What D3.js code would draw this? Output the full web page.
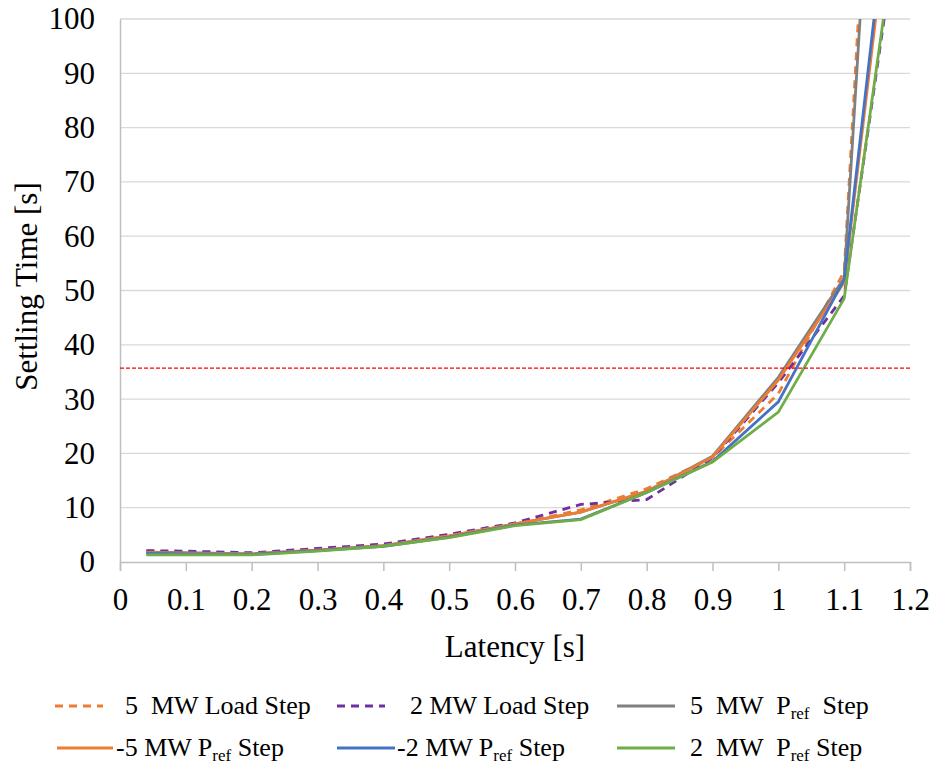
<!DOCTYPE html>
<html>
<head>
<meta charset="utf-8">
<script src="https://cdn.jsdelivr.net/npm/d3@7"></script>
</head>
<body style="margin:0; background:#fff">
<div id="chart"></div>
<script>
// data
var latency = [0.04, 0.1, 0.2, 0.3, 0.4, 0.5, 0.6, 0.7, 0.8, 0.9, 1.0, 1.1, 1.2];

var load5 = [2.0, 1.9, 1.6, 2.3, 3.2, 5.0, 7.0, 9.6, 13.5, 19.2, 31.0, 53.5, 270];
var load2 = [2.1, 2.0, 1.7, 2.5, 3.3, 5.1, 7.2, 10.6, 11.5, 19.2, 33.0, 49.0, 133];
var pref5 = [1.8, 1.7, 1.5, 2.2, 3.0, 4.8, 7.0, 9.2, 13.0, 19.5, 34.0, 52.3, 250];
var prefNeg5 = [1.7, 1.6, 1.5, 2.2, 3.0, 4.8, 7.0, 9.2, 13.0, 19.3, 33.5, 51.5, 153];
var prefNeg2 = [1.6, 1.5, 1.4, 2.1, 2.9, 4.6, 6.8, 7.9, 12.8, 18.5, 29.5, 52.0, 158];
var pref2 = [1.3, 1.3, 1.3, 2.0, 2.9, 4.5, 6.7, 7.8, 12.8, 18.4, 27.6, 48.5, 135];

var threshold = 35.7;

var xTicks = [0, 0.1, 0.2, 0.3, 0.4, 0.5, 0.6, 0.7, 0.8, 0.9, 1, 1.1, 1.2];
var yTicks = [0, 10, 20, 30, 40, 50, 60, 70, 80, 90, 100];

// legend labels: [before, subscript, after]
var series = [
    { name: ["5  MW Load Step", "", ""], values: load5, color: "#ed7d31", dash: "8,6" },
    { name: ["2 MW Load Step", "", ""], values: load2, color: "#7030a0", dash: "8,6" },
    { name: ["5  MW  P", "ref", "  Step"], values: pref5, color: "#808080", dash: null },
    { name: ["-5 MW P", "ref", " Step"], values: prefNeg5, color: "#ed7d31", dash: null },
    { name: ["-2 MW P", "ref", " Step"], values: prefNeg2, color: "#4472c4", dash: null },
    { name: ["2  MW  P", "ref", " Step"], values: pref2, color: "#70ad47", dash: null }
];

var FONT = "Liberation Serif";

// set up SVG
var svgWidth = 932;
var svgHeight = 764;
var margin = { top: 19, right: 22, left: 120, bottom: 202 };
var width = svgWidth - margin.left - margin.right;
var height = svgHeight - margin.top - margin.bottom;

var svg = d3.select("#chart")
    .append("svg")
    .attr("width", svgWidth)
    .attr("height", svgHeight)
    .attr("font-family", FONT);

var chartGroup = svg.append("g")
    .attr("transform", `translate(${margin.left}, ${margin.top})`);

var xScale = d3.scaleLinear().domain([0, 1.2]).range([0, width]);
var yScale = d3.scaleLinear().domain([0, 100]).range([height, 0]);

svg.append("defs").append("clipPath")
    .attr("id", "plotClip")
    .append("rect")
    .attr("x", 0).attr("y", 0)
    .attr("width", width).attr("height", height);

// gridlines
chartGroup.selectAll(".grid")
    .data(yTicks.slice(1))
    .enter()
    .append("line")
    .attr("x1", 0)
    .attr("x2", width)
    .attr("y1", d => yScale(d))
    .attr("y2", d => yScale(d))
    .attr("stroke", "#d9d9d9")
    .attr("stroke-width", 1.3);

// x axis
var bottomAxis = d3.axisBottom(xScale)
    .tickValues(xTicks)
    .tickSize(9)
    .tickPadding(17)
    .tickFormat(d => d3.format("")(d));

var xAxisG = chartGroup.append("g")
    .attr("transform", `translate(0, ${height})`)
    .call(bottomAxis)
    .attr("font-family", FONT)
    .attr("font-size", 31);
xAxisG.select(".domain").attr("stroke", "#bfbfbf").attr("stroke-width", 1.5);
xAxisG.selectAll(".tick line").attr("stroke", "#bfbfbf").attr("stroke-width", 1.5);
xAxisG.selectAll(".tick text")
    .attr("font-family", FONT)
    .attr("fill", "#000");

// y axis
var leftAxis = d3.axisLeft(yScale)
    .tickValues(yTicks)
    .tickSize(0)
    .tickPadding(25);

var yAxisG = chartGroup.append("g").call(leftAxis)
    .attr("font-family", FONT)
    .attr("font-size", 31);
yAxisG.select(".domain").attr("stroke", "#bfbfbf").attr("stroke-width", 1.5);
yAxisG.selectAll(".tick text")
    .attr("font-family", FONT)
    .attr("fill", "#000");

// series lines
var line = d3.line()
    .x((d, i) => xScale(latency[i]))
    .y(d => yScale(d));

var linesGroup = chartGroup.append("g").attr("clip-path", "url(#plotClip)");

series.forEach(function (s) {
    linesGroup.append("path")
        .datum(s.values)
        .attr("d", line)
        .attr("fill", "none")
        .attr("stroke", s.color)
        .attr("stroke-width", 2.8)
        .attr("stroke-dasharray", s.dash);
});

// threshold line
chartGroup.append("line")
    .attr("x1", 0)
    .attr("x2", width)
    .attr("y1", yScale(threshold))
    .attr("y2", yScale(threshold))
    .attr("stroke", "#ff0000")
    .attr("stroke-width", 1.3)
    .attr("stroke-dasharray", "4,2");

// axis titles
chartGroup.append("text")
    .attr("transform", "rotate(-90)")
    .attr("x", -height / 2 + 4)
    .attr("y", -83)
    .attr("text-anchor", "middle")
    .attr("font-size", 31)
    .attr("font-family", FONT)
    .text("Settling Time [s]");

chartGroup.append("text")
    .attr("x", width / 2)
    .attr("y", height + 95)
    .attr("text-anchor", "middle")
    .attr("font-size", 31)
    .attr("font-family", FONT)
    .text("Latency [s]");

// legend
var legendPos = [
    { lx: 55, lw: 48, tx: 125, y: 706 },
    { lx: 337, lw: 48, tx: 410, y: 706 },
    { lx: 617, lw: 58, tx: 690, y: 706 },
    { lx: 57, lw: 56, tx: 116, y: 748 },
    { lx: 337, lw: 58, tx: 397, y: 748 },
    { lx: 617, lw: 58, tx: 690, y: 748 }
];

series.forEach(function (s, i) {
    var p = legendPos[i];
    svg.append("line")
        .attr("x1", p.lx)
        .attr("x2", p.lx + p.lw)
        .attr("y1", p.y)
        .attr("y2", p.y)
        .attr("stroke", s.color)
        .attr("stroke-width", 2.8)
        .attr("stroke-dasharray", s.dash);

    var t = svg.append("text")
        .attr("x", p.tx)
        .attr("y", p.y + 8)
        .attr("font-size", 26)
        .attr("font-family", FONT)
        .attr("xml:space", "preserve");
    t.append("tspan").text(s.name[0]);
    if (s.name[1]) {
        t.append("tspan")
            .attr("font-size", 17)
            .attr("dy", 5)
            .text(s.name[1]);
        t.append("tspan")
            .attr("dy", -5)
            .text(s.name[2]);
    }
});
</script>
</body>
</html>
